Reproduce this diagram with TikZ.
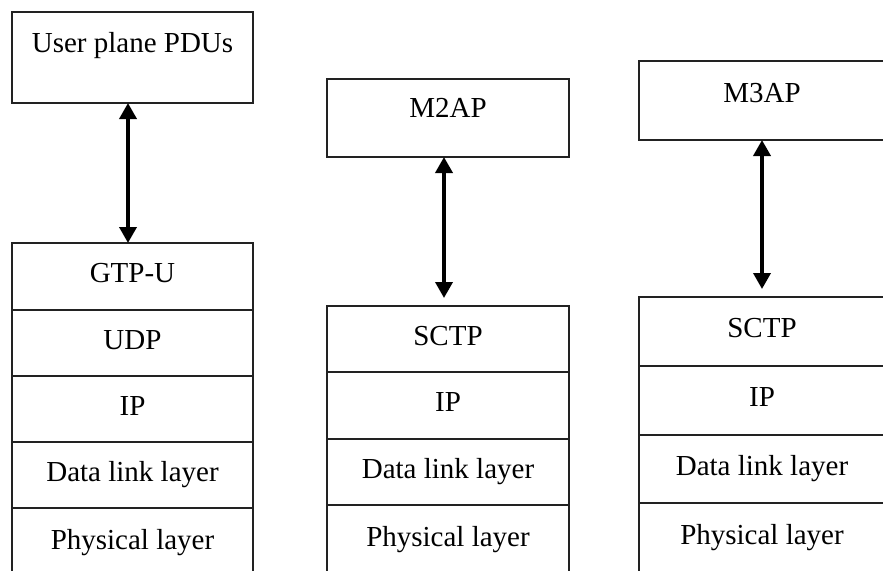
\documentclass[tikz,border=0pt]{standalone}
\usepackage{fontspec}
\setmainfont{Liberation Serif}
\usetikzlibrary{arrows.meta}
\definecolor{edge}{HTML}{222222}
\tikzset{
  layer/.style={draw=edge, line width=1.8pt, fill=white, inner sep=0pt, outer sep=0pt,
    minimum width=#1, font=\fontsize{29}{34}\selectfont,
    text height=20pt, text depth=8pt},
  layer/.default=241pt,
  link/.style={line width=3.6pt, {Triangle[length=16pt,width=17pt]}-{Triangle[length=16pt,width=17pt]}}
}
\begin{document}
\begin{tikzpicture}[x=1pt,y=-1pt]
\clip (0,0) rectangle (883,570);
\fill[white] (0,0) rectangle (883,570);

% user plane stack
\node[layer, minimum height=91pt, text depth=31pt] (upd) at (132.5,57.5) {User plane PDUs};
\node[layer, minimum height=67pt] (gtpu) at (132.5,276.5) {GTP-U};
\node[layer, minimum height=66pt] (udp) at (132.5,343) {UDP};
\node[layer, minimum height=66pt] (ipa) at (132.5,409) {IP};
\node[layer, minimum height=66pt] (dlla) at (132.5,475) {Data link layer};
\node[layer, minimum height=70pt] (phya) at (132.5,543) {Physical layer};
\draw[link] ([xshift=-4.5pt]upd.south) -- ([xshift=-4.5pt]gtpu.north);

% M2AP stack
\node[layer=242pt, minimum height=78pt, text depth=21pt] (mtwo) at (448,118) {M2AP};
\node[layer=242pt, minimum height=66pt] (sctpb) at (448,339) {SCTP};
\node[layer=242pt, minimum height=67pt] (ipb) at (448,405.5) {IP};
\node[layer=242pt, minimum height=66pt] (dllb) at (448,472) {Data link layer};
\node[layer=242pt, minimum height=70pt] (phyb) at (448,540) {Physical layer};
\draw[link] ([xshift=-4pt]mtwo.south) -- ([xshift=-4pt,yshift=8pt]sctpb.north);

% M3AP stack
\node[layer=246pt, minimum height=79pt, text depth=16pt] (mthree) at (762,100.5) {M3AP};
\node[layer=246pt, minimum height=69pt] (sctpc) at (762,331.5) {SCTP};
\node[layer=246pt, minimum height=69pt] (ipc) at (762,400.5) {IP};
\node[layer=246pt, minimum height=68pt] (dllc) at (762,469) {Data link layer};
\node[layer=246pt, minimum height=70pt] (phyc) at (762,538) {Physical layer};
\draw[link] (mthree.south) -- ([yshift=8pt]sctpc.north);
\end{tikzpicture}
\end{document}
